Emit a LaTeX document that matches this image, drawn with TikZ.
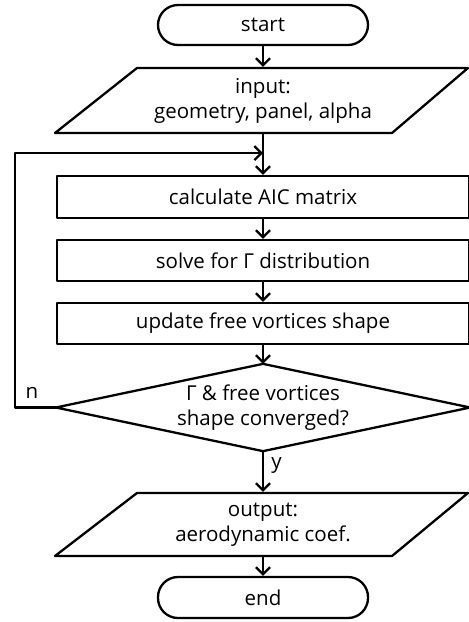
\documentclass[tikz,border=0pt]{standalone}
\usepackage{fontspec}
\setmainfont{Open Sans}
\usetikzlibrary{arrows.meta,calc}
\begin{document}
\begin{tikzpicture}[x=1pt,y=-1pt, line width=2.3pt, line join=round,
  every node/.style={font=\fontsize{20.5}{25}\selectfont, align=center},
  term/.style={draw, rounded corners=20pt, minimum width=210pt, inner sep=0pt},
  proc/.style={draw, minimum width=412pt, inner sep=0pt},
  ghost/.style={draw=none, inner sep=0pt},
  arr/.style={-{Straight Barb[length=7pt,width=14pt,line width=2.3pt]}}]
\useasboundingbox (0,0) rectangle (469,622);
% nodes
\node[term, minimum height=40pt] (start) at (263,25) {start};
\node[ghost, minimum width=331pt, minimum height=65pt] (inp) at (263,100.5) {input:\\geometry, panel, alpha};
\draw ($(inp.center)+(-126,-32.5)$) -- ($(inp.center)+(205,-32.5)$) -- ($(inp.center)+(129,32.5)$) -- ($(inp.center)+(-208,32.5)$) -- cycle;
\node[proc, minimum height=42pt] (calc) at (263,197) {calculate AIC matrix};
\node[proc, minimum height=41pt] (solve) at (263,260.5) {solve for Γ distribution};
\node[proc, minimum height=41pt] (update) at (263,323.5) {update free vortices shape};
\node[ghost, minimum width=412pt, minimum height=85pt] (dec) at (263,407.5) {Γ \& free vortices\\shape converged?};
\draw (dec.north) -- (dec.east) -- (dec.south) -- (dec.west) -- cycle;
\node[ghost, minimum width=331pt, minimum height=63pt] (out) at (263,524.5) {output:\\aerodynamic coef.};
\draw ($(out.center)+(-126,-31.5)$) -- ($(out.center)+(205,-31.5)$) -- ($(out.center)+(129,31.5)$) -- ($(out.center)+(-208,31.5)$) -- cycle;
\node[term, minimum height=41pt] (end) at (263,597.5) {end};
\coordinate (lp) at (15,153);
% connectors
\draw[arr] (start.south) -- (inp.north);
\draw[arr] (inp.south) -- (calc.north);
\draw[arr] (calc.south) -- (solve.north);
\draw[arr] (solve.south) -- (update.north);
\draw[arr] (update.south) -- (dec.north);
\draw[arr] (dec.south) -- node[right, pos=0.35, xshift=4pt] (ylab) {y} (out.north);
\draw[arr] (out.south) -- (end.north);
\draw[arr] (dec.west) -- (dec.west -| lp) -- (lp) -- (lp -| dec.north);
\node (nlab) at (32,393) {n};
\end{tikzpicture}
\end{document}
